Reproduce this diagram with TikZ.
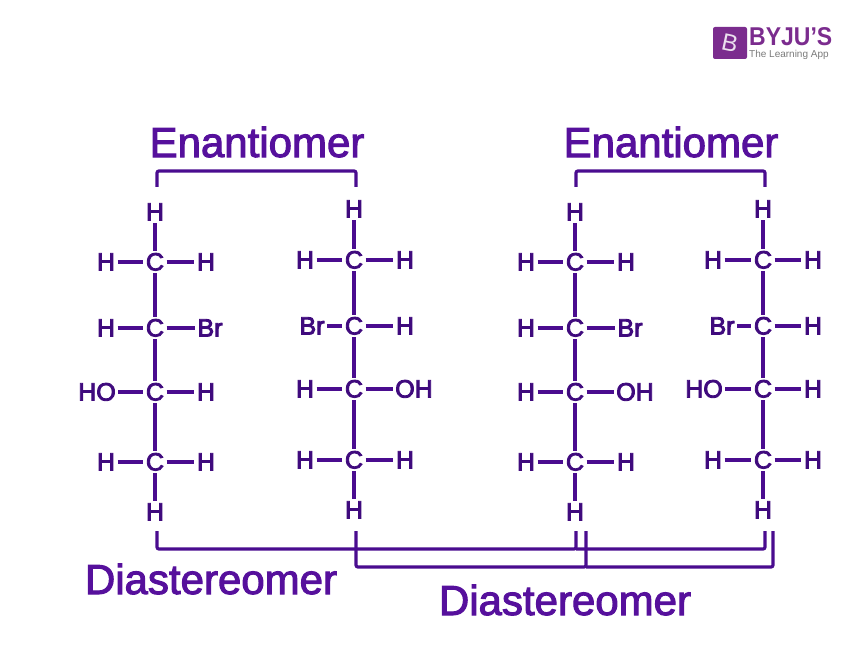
\documentclass[tikz,border=0pt]{standalone}
\usepackage{fontspec}
\usepackage{xcolor}
\setmainfont{Liberation Sans}
\newfontfamily\heavyfont[FakeBold=2.4]{Liberation Sans}
\newfontfamily\atomfont[FakeBold=3.5]{Liberation Sans}
\usetikzlibrary{positioning}
\definecolor{atomink}{HTML}{3F0A7D}
\definecolor{lineink}{HTML}{4A0C8F}
\definecolor{titleink}{HTML}{56109C}
\definecolor{logoink}{HTML}{7B2C8E}
\definecolor{logogrey}{HTML}{7A7A7A}

\begin{document}
\begin{tikzpicture}[
    x=1pt, y=-1pt,
    on grid,
    atom/.style={inner sep=2.5pt, text height=17pt, text depth=0pt, text=atomink, font=\atomfont\fontsize{25}{25}\selectfont},
    title/.style={inner sep=0pt, text=titleink, font=\heavyfont\fontsize{42}{42}\selectfont},
    bond/.style={draw=lineink, line width=3.2pt},
    bracket/.style={draw=lineink, line width=3.2pt, rounded corners=2pt}
]
\useasboundingbox (0,0) rectangle (868,658);

% logo
\node[fill=logoink, rounded corners=2pt, minimum width=34pt, minimum height=32pt, inner sep=0pt] (logo) at (730,43) {};
\node[inner sep=0pt, text=white!85!logoink, font=\fontsize{24}{24}\selectfont, rotate=-12] (logob) at (730,43) {B};
\node[anchor=west, inner sep=0pt, text=logoink, font=\fontsize{23}{23}\bfseries\selectfont] (brand) at (749,37) {\scalebox{1}[1.12]{BYJU'S}};
\node[anchor=west, inner sep=0pt, text=logogrey, font=\fontsize{10}{10}\selectfont] (tagline) at (749,55) {The Learning App};

\node[title] (enant1) at (257,142) {Enantiomer};
\node[title] (enant2) at (671,142) {Enantiomer};
\node[title] (dia1) at (211,579) {Diastereomer};
\node[title] (dia2) at (565,600) {Diastereomer};

% first molecule
\node[atom] (a0) at (155,212) {H};
\node[atom, below=50pt of a0] (a1) {C};
\node[atom, below=66pt of a1] (a2) {C};
\node[atom, below=64pt of a2] (a3) {C};
\node[atom, below=70pt of a3] (a4) {C};
\node[atom, below=50pt of a4] (a5) {H};
\node[atom, left=49pt of a1] (a1l) {H};
\node[atom, right=51pt of a1] (a1r) {H};
\node[atom, left=49pt of a2] (a2l) {H};
\node[atom, right=55pt of a2] (a2r) {Br};
\node[atom, left=58pt of a3] (a3l) {HO};
\node[atom, right=51pt of a3] (a3r) {H};
\node[atom, left=49pt of a4] (a4l) {H};
\node[atom, right=51pt of a4] (a4r) {H};

% second molecule
\node[atom] (b0) at (354,209) {H};
\node[atom, below=51pt of b0] (b1) {C};
\node[atom, below=66pt of b1] (b2) {C};
\node[atom, below=63pt of b2] (b3) {C};
\node[atom, below=71pt of b3] (b4) {C};
\node[atom, below=50pt of b4] (b5) {H};
\node[atom, left=49pt of b1] (b1l) {H};
\node[atom, right=51pt of b1] (b1r) {H};
\node[atom, left=42pt of b2] (b2l) {Br};
\node[atom, right=51pt of b2] (b2r) {H};
\node[atom, left=49pt of b3] (b3l) {H};
\node[atom, right=60pt of b3] (b3r) {OH};
\node[atom, left=49pt of b4] (b4l) {H};
\node[atom, right=51pt of b4] (b4r) {H};

% third molecule
\node[atom] (c0) at (575,212) {H};
\node[atom, below=50pt of c0] (c1) {C};
\node[atom, below=66pt of c1] (c2) {C};
\node[atom, below=64pt of c2] (c3) {C};
\node[atom, below=70pt of c3] (c4) {C};
\node[atom, below=50pt of c4] (c5) {H};
\node[atom, left=49pt of c1] (c1l) {H};
\node[atom, right=51pt of c1] (c1r) {H};
\node[atom, left=49pt of c2] (c2l) {H};
\node[atom, right=55pt of c2] (c2r) {Br};
\node[atom, left=49pt of c3] (c3l) {H};
\node[atom, right=60pt of c3] (c3r) {OH};
\node[atom, left=49pt of c4] (c4l) {H};
\node[atom, right=51pt of c4] (c4r) {H};

% fourth molecule
\node[atom] (d0) at (763,209) {H};
\node[atom, below=51pt of d0] (d1) {C};
\node[atom, below=66pt of d1] (d2) {C};
\node[atom, below=63pt of d2] (d3) {C};
\node[atom, below=71pt of d3] (d4) {C};
\node[atom, below=50pt of d4] (d5) {H};
\node[atom, left=50pt of d1] (d1l) {H};
\node[atom, right=50pt of d1] (d1r) {H};
\node[atom, left=41pt of d2] (d2l) {Br};
\node[atom, right=50pt of d2] (d2r) {H};
\node[atom, left=59pt of d3] (d3l) {HO};
\node[atom, right=50pt of d3] (d3r) {H};
\node[atom, left=50pt of d4] (d4l) {H};
\node[atom, right=50pt of d4] (d4r) {H};

% bonds
\draw[bond] (a0) -- (a1) -- (a2) -- (a3) -- (a4) -- (a5);
\draw[bond] (a1l) -- (a1) -- (a1r);
\draw[bond] (a2l) -- (a2) -- (a2r);
\draw[bond] (a3l) -- (a3) -- (a3r);
\draw[bond] (a4l) -- (a4) -- (a4r);

\draw[bond] (b0) -- (b1) -- (b2) -- (b3) -- (b4) -- (b5);
\draw[bond] (b1l) -- (b1) -- (b1r);
\draw[bond] (b2l) -- (b2) -- (b2r);
\draw[bond] (b3l) -- (b3) -- (b3r);
\draw[bond] (b4l) -- (b4) -- (b4r);

\draw[bond] (c0) -- (c1) -- (c2) -- (c3) -- (c4) -- (c5);
\draw[bond] (c1l) -- (c1) -- (c1r);
\draw[bond] (c2l) -- (c2) -- (c2r);
\draw[bond] (c3l) -- (c3) -- (c3r);
\draw[bond] (c4l) -- (c4) -- (c4r);

\draw[bond] (d0) -- (d1) -- (d2) -- (d3) -- (d4) -- (d5);
\draw[bond] (d1l) -- (d1) -- (d1r);
\draw[bond] (d2l) -- (d2) -- (d2r);
\draw[bond] (d3l) -- (d3) -- (d3r);
\draw[bond] (d4l) -- (d4) -- (d4r);

% brackets
\coordinate (e1a) at (157,187);
\coordinate (e1b) at (356,187);
\coordinate (e2a) at (576,187);
\coordinate (e2b) at (765,187);
\coordinate (f1a) at (157,531);
\coordinate (f1b) at (576,531);
\coordinate (f1c) at (765,531);
\coordinate (f2a) at (356,531);
\coordinate (f2b) at (586,531);
\coordinate (f2c) at (773,531);

\draw[bracket] (e1a) |- (257,171) -| (e1b);
\draw[bracket] (e2a) |- (671,171) -| (e2b);
\draw[bracket] (f1a) |- (f1b |- 0,549) -- (f1b);
\draw[bracket] (f1b |- 0,549) -| (f1c);
\draw[bracket] (f2a) |- (f2b |- 0,567) -- (f2b);
\draw[bracket] (f2b |- 0,567) -| (f2c);

\end{tikzpicture}
\end{document}
